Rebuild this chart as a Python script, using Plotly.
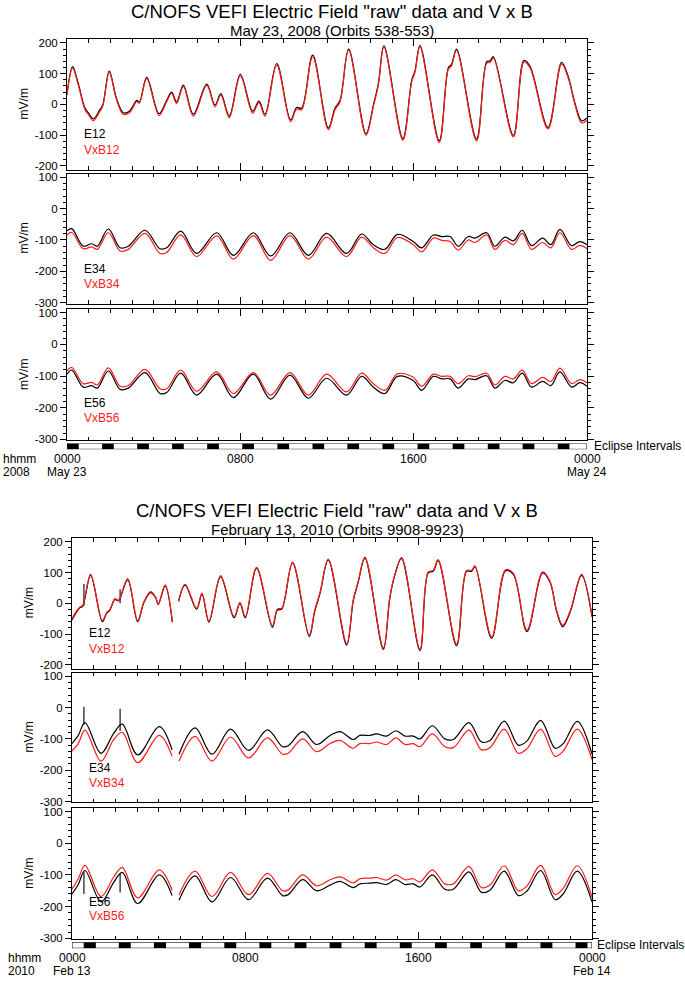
import plotly.graph_objects as go

W, H = 685, 982
FONT = "Liberation Sans, Arial, Helvetica, sans-serif"

# ---------------- data : May 23, 2008 ----------------
T08_H12 = [0.0, 0.26, 0.52, 0.83, 0.98, 1.22, 1.52, 1.65, 1.95, 2.29, 2.6, 2.88, 3.22, 3.34, 3.68, 4.25, 4.6, 4.83,
           5.06, 5.37, 5.83, 6.45, 6.83, 7.1, 7.49, 8.0, 8.57, 8.86, 9.14, 9.68, 10.32, 10.6, 10.83, 11.34, 12.06,
           12.37, 12.6, 13.0, 13.8, 14.14, 14.37, 14.63, 15.5, 15.91, 16.06, 16.29, 17.18, 17.6, 17.75, 17.98, 18.9,
           19.37, 19.52, 19.68, 20.6, 21.09, 21.37, 22.2, 22.83, 23.14, 23.45, 23.75, 24.0]
T08_E12 = [33, 123, 68, -12, -27, -47, -17, -2, 108, 18, -27, -22, 13, 8, 88, -30, 13, 40, 8, 63, -32, 66, -2, 35,
           -37, 98, -22, 11, -32, 133, -50, -10, -12, 160, -77, -12, 13, 180, -95, -2, 68, 190, -111, 79, 109, 192,
           -118, 119, 131, 180, -113, 139, 141, 155, -101, 143, 124, -75, 137, 89, 3, -53, -44]
T08_VXB12 = [30, 118, 63, -17, -32, -53, -22, -6, 104, 14, -32, -27, 9, 4, 84, -36, 9, 36, 3, 58, -38, 62, -7, 30,
             -43, 93, -28, 6, -38, 128, -56, -15, -17, 155, -82, -17, 8, 176, -101, -7, 63, 186, -117, 74, 104, 188,
             -124, 114, 126, 176, -119, 134, 136, 150, -106, 138, 119, -80, 132, 84, -2, -60, -52]

T08_H34 = [0.0, 0.22, 0.75, 1.14, 1.4, 1.91, 2.45, 2.83, 3.6, 4.29, 4.6, 5.25, 5.98, 6.91, 7.68, 8.6, 9.4, 10.29,
           11.14, 11.98, 12.9, 13.6, 14.14, 14.67, 15.25, 15.98, 16.37, 16.91, 17.29, 17.68, 18.06, 18.52, 18.83,
           19.37, 19.75, 20.21, 20.6, 21.01, 21.44, 21.95, 22.33, 22.75, 23.29, 23.67, 24.0]
T08_E34 = [-71, -64, -120, -112, -120, -65, -125, -120, -69, -128, -125, -72, -143, -77, -149, -77, -151, -77, -149,
           -79, -143, -81, -115, -130, -82, -105, -125, -84, -89, -89, -120, -89, -94, -77, -120, -91, -103, -69,
           -118, -94, -115, -66, -118, -105, -115]
T08_VXB34 = [-84, -76, -128, -122, -130, -77, -135, -130, -79, -143, -140, -84, -153, -87, -161, -86, -165, -86,
             -161, -91, -153, -91, -125, -143, -92, -115, -138, -94, -101, -105, -132, -100, -108, -84, -130, -101,
             -115, -79, -130, -108, -125, -77, -130, -117, -128]
T08_E56 = [-94, -81, -135, -130, -138, -84, -142, -138, -89, -155, -152, -91, -160, -94, -168, -94, -173, -97, -170,
           -107, -160, -101, -135, -155, -101, -114, -145, -101, -109, -109, -138, -109, -111, -99, -138, -114, -121,
           -91, -135, -117, -130, -87, -135, -121, -132]
T08_VXB56 = [-84, -73, -124, -120, -128, -74, -132, -130, -79, -140, -140, -81, -148, -87, -155, -89, -160, -89,
             -160, -94, -150, -91, -124, -145, -93, -104, -132, -94, -101, -101, -124, -99, -102, -91, -128, -101,
             -109, -81, -124, -104, -117, -75, -124, -111, -121]

ECL08_START = [0.0, 1.62, 3.24, 4.85, 6.47, 8.09, 9.71, 11.33, 12.94, 14.56, 16.18, 17.8, 19.42, 21.03, 22.65]
ECL08_END = [0.54, 2.16, 3.78, 5.39, 7.01, 8.63, 10.25, 11.87, 13.48, 15.1, 16.72, 18.34, 19.96, 21.57, 23.19]

# ---------------- data : February 13, 2010 (None = data gap) ----------------
T10_H12 = [0.0, 0.22, 0.37, 0.49, 0.86, 1.4, 1.6, 1.75, 1.98, 2.14, 2.57, 3.03, 3.32, 3.63, 3.86, 3.98, 4.3, 4.63,
           None, 4.92, 5.22, 5.75, 6.0, 6.32, 6.86, 7.48, 7.75, 8.0, 8.52, 9.25, 9.48, 9.68, 10.18, 10.95, 11.2,
           11.45, 11.83, 12.68, 12.98, 13.21, 13.52, 14.37, 14.67, 14.9, 15.21, 16.06, 16.44, 16.67, 16.9, 17.75,
           18.21, 18.44, 18.6, 19.37, 20.01, 20.37, 21.0, 21.72, 22.06, 22.37, 22.65, 23.0, 23.52, 24.0]
T10_E12 = [-54, -27, -14, -10, 91, -60, -32, -22, 13, 8, 76, -60, 3, 35, 18, -4, 56, -61,
           None, 6, 59, -19, 30, -61, 87, -47, 0, -47, 114, -78, -22, -19, 131, -108, -27,
           33, 141, -136, 8, 69, 147, -150, 18, 91, 146, -154, 99, 104, 139, -138,
           104, 104, 119, -114, 106, 94, -92, 99, 69, -27, -76, -27, 91, -44]
T10_VXB12 = [-50, -24, -12, -7, 94, -56, -30, -20, 15, 10, 80, -56, 5, 38, 20, -2, 60, -58,
             None, 8, 62, -16, 33, -57, 90, -43, 3, -43, 117, -73, -18, -16, 134, -103, -23,
             36, 144, -130, 11, 72, 150, -145, 21, 94, 149, -149, 102, 107, 142, -132,
             107, 107, 122, -109, 109, 97, -87, 102, 72, -23, -71, -23, 94, -40]

T10_H34 = [0.0, 0.29, 0.6, 1.34, 1.91, 2.32, 3.03, 4.03, 4.62, None, 4.94, 5.68, 6.46, 7.32, 8.15, 9.02, 9.72,
           9.98, 10.65, 11.29, 11.91, 12.37, 12.98, 13.29, 13.75, 14.06, 14.52, 14.95, 15.37, 15.75, 16.06, 16.63,
           17.21, 17.6, 18.32, 18.9, 19.29, 19.95, 20.6, 20.98, 21.63, 22.3, 22.67, 23.32, 24.0]
T10_E34 = [-115, -89, -48, -146, -84, -53, -151, -61, -135, None, -149, -65, -149, -69, -137, -71, -125, -122, -77,
           -118, -89, -77, -102, -89, -89, -84, -91, -74, -91, -91, -100, -58, -100, -102, -48, -110, -105, -43,
           -120, -108, -41, -130, -115, -44, -149]
T10_VXB34 = [-139, -115, -72, -171, -104, -79, -176, -89, -156, None, -171, -92, -171, -94, -161, -97, -149, -146,
             -100, -141, -115, -105, -130, -115, -115, -110, -118, -97, -118, -115, -125, -84, -125, -128, -72,
             -135, -128, -69, -146, -133, -69, -156, -139, -69, -166]
T10_E56 = [-160, -130, -86, -185, -125, -92, -190, -100, -165, None, -180, -103, -185, -108, -178, -110, -165, -162,
           -115, -150, -132, -120, -140, -128, -126, -124, -130, -115, -130, -128, -138, -100, -145, -145, -90,
           -155, -148, -88, -165, -152, -86, -178, -160, -88, -185]
T10_VXB56 = [-145, -112, -70, -168, -108, -76, -172, -84, -148, None, -163, -88, -168, -92, -162, -95, -150, -147,
             -100, -134, -115, -106, -125, -112, -110, -108, -116, -100, -115, -112, -122, -84, -128, -128, -74,
             -140, -132, -71, -150, -136, -70, -162, -142, -71, -170]

# short spikes in the 2010 E-field data
SPIKE10_H = [0.55, 2.22]
SPIKE10_E12 = [(-8, 63), (0, 46)]
SPIKE10_E34 = [(-55, 3), (-75, -4)]
SPIKE10_E56 = [(-160, -90), (-155, -95)]

ECL10_START = [0.54, 2.16, 3.78, 5.4, 7.03, 8.65, 10.27, 11.89, 13.51, 15.13, 16.75, 18.38, 20.0, 21.62, 23.24]
ECL10_END = [1.1, 2.71, 4.34, 5.96, 7.58, 9.2, 10.82, 12.44, 14.06, 15.68, 17.3, 18.92, 20.55, 22.17, 23.79]

# ---------------- text ----------------
TITLE = 'C/NOFS VEFI Electric Field "raw" data and V x B'
SUBTITLES = ["May 23, 2008 (Orbits 538-553)", "February 13, 2010 (Orbits 9908-9923)"]
YEARS = ["2008", "2010"]
X_TICKS = [0, 8, 16, 24]
X_TICKTEXT = [["0000<br>May 23", "0800", "1600", "0000<br>May 24"],
              ["0000<br>Feb 13", "0800", "1600", "0000<br>Feb 14"]]
Y_TICKS = [[200, 100, 0, -100, -200], [100, 0, -100, -200, -300], [100, 0, -100, -200, -300]]
NAMES = [("E12", "VxB12"), ("E34", "VxB34"), ("E56", "VxB56")]

DATA = [
    dict(h=[T08_H12, T08_H34, T08_H34], e=[T08_E12, T08_E34, T08_E56], v=[T08_VXB12, T08_VXB34, T08_VXB56],
         spikes=None, ecl=(ECL08_START, ECL08_END)),
    dict(h=[T10_H12, T10_H34, T10_H34], e=[T10_E12, T10_E34, T10_E56], v=[T10_VXB12, T10_VXB34, T10_VXB56],
         spikes=[SPIKE10_E12, SPIKE10_E34, SPIKE10_E56], ecl=(ECL10_START, ECL10_END)),
]

# ---------------- layout geometry (pixels) ----------------
FIG_XOFF = [0, 5]
FIG_YOFF = [0, 503]
X_LEFT, X_RIGHT = 67, 587
PANEL_BOX = [(36.5, 168), (172, 303), (309, 441)]
PANEL_RANGE = [[-212, 212], [-303, 112], [-303, 110]]
BAR_BOX = (444, 450)
LEG_Y = [(132, 148), (268, 283), (403, 418)]
LABEL_Y = (460, 472.5)


def px(p):
    return p / W


def py(p):
    return 1 - p / H


fig = go.Figure()
layout = {}
shapes = []
annotations = []


def ann(x, y, text, size=12, color="black", xanchor="left", angle=0, xref="paper", yref="paper"):
    annotations.append(dict(x=x, y=y, xref=xref, yref=yref, text=text, showarrow=False, xanchor=xanchor,
                            yanchor="middle", textangle=angle,
                            font=dict(family=FONT, size=size, color=color)))


for f in range(2):
    xo, yo = FIG_XOFF[f], FIG_YOFF[f]
    d = DATA[f]
    xdom = [px(X_LEFT + xo), px(X_RIGHT + xo)]
    for k in range(3):
        n = f * 4 + k + 1
        top, bot = PANEL_BOX[k]
        layout[f"xaxis{n}"] = dict(domain=xdom, range=[0, 24], anchor=f"y{n}", showline=True, linecolor="black",
                                   linewidth=1, mirror="allticks", ticks="inside", tickvals=X_TICKS, ticklen=7,
                                   tickcolor="black", showticklabels=False, showgrid=False, zeroline=False,
                                   minor=dict(dtick=1, tick0=0, ticks="inside", ticklen=3.5, tickcolor="black"))
        layout[f"yaxis{n}"] = dict(domain=[py(bot + yo), py(top + yo)], range=PANEL_RANGE[k], anchor=f"x{n}",
                                   showline=True, linecolor="black", linewidth=1, mirror="allticks",
                                   ticks="outside", tickvals=Y_TICKS[k], ticktext=[str(v) for v in Y_TICKS[k]],
                                   ticklen=6, tickcolor="black", showgrid=False, zeroline=False,
                                   tickfont=dict(family=FONT, size=11.5, color="black"),
                                   minor=dict(dtick=20, tick0=0, ticks="outside", ticklen=3, tickcolor="black"))
        fig.add_trace(go.Scatter(x=d["h"][k], y=d["e"][k], mode="lines", xaxis=f"x{n}", yaxis=f"y{n}",
                                 line=dict(color="black", width=1.2, shape="spline", smoothing=1.0),
                                 connectgaps=False, showlegend=False, hoverinfo="skip"))
        if d["spikes"] is not None:
            sx, sy = [], []
            for hh, (lo, hi) in zip(SPIKE10_H, d["spikes"][k]):
                sx += [hh, hh, None]
                sy += [lo, hi, None]
            fig.add_trace(go.Scatter(x=sx, y=sy, mode="lines", xaxis=f"x{n}", yaxis=f"y{n}",
                                     line=dict(color="black", width=1.1), showlegend=False, hoverinfo="skip"))
        fig.add_trace(go.Scatter(x=d["h"][k], y=d["v"][k], mode="lines", xaxis=f"x{n}", yaxis=f"y{n}",
                                 line=dict(color="#ff1a1a", width=1.2, shape="spline", smoothing=1.0),
                                 connectgaps=False, showlegend=False, hoverinfo="skip"))
        # mV/m label and series names
        ann(px(24 + xo), py((top + bot) / 2 + yo), "mV/m", angle=-90, xanchor="center")
        ann(px(82 + xo), py(LEG_Y[k][0] + yo), NAMES[k][0], color="black")
        ann(px(82 + xo), py(LEG_Y[k][1] + yo), NAMES[k][1], color="#ff1a1a")

    # eclipse bar axis
    n = f * 4 + 4
    layout[f"xaxis{n}"] = dict(domain=xdom, range=[0, 24], anchor=f"y{n}", visible=False)
    layout[f"yaxis{n}"] = dict(domain=[py(BAR_BOX[1] + yo), py(BAR_BOX[0] + yo)], range=[0, 1], anchor=f"x{n}",
                               visible=False)
    shapes.append(dict(type="rect", xref=f"x{n}", yref=f"y{n}", x0=0, x1=24, y0=0, y1=1,
                       line=dict(color="black", width=1), fillcolor="white", layer="above"))
    for s, e in zip(*d["ecl"]):
        shapes.append(dict(type="rect", xref=f"x{n}", yref=f"y{n}", x0=s, x1=e, y0=0, y1=1,
                           line=dict(width=0), fillcolor="black", layer="above"))
    ann(px(592 + xo - f * 2), py(447 + yo), "Eclipse Intervals")
    # time labels
    for t, txt in zip(X_TICKS, X_TICKTEXT[f]):
        parts = txt.split("<br>")
        for line_i, part in enumerate(parts):
            annotations.append(dict(x=t, y=py(LABEL_Y[line_i] + yo), xref=f"x{n}", yref="paper", text=part,
                                    showarrow=False, xanchor="center", yanchor="middle",
                                    font=dict(family=FONT, size=12, color="black")))
    ann(px(1 + xo), py(LABEL_Y[0] + yo), "hhmm")
    ann(px(1 + xo), py(LABEL_Y[1] + yo), YEARS[f])
    # titles
    ann(px(332 + xo), py(9 + yo), TITLE, size=18.5, xanchor="center")
    ann(px(332 + xo), py(27.5 + yo), SUBTITLES[f], size=15, xanchor="center")

fig.update_layout(width=W, height=H, margin=dict(l=0, r=0, t=0, b=0), paper_bgcolor="white",
                  plot_bgcolor="white", showlegend=False, shapes=shapes, annotations=annotations, **layout)
fig.write_html("out.html", config={"displayModeBar": False, "staticPlot": True},
               post_script="document.body.style.margin='0px';document.body.style.overflow='hidden';")
